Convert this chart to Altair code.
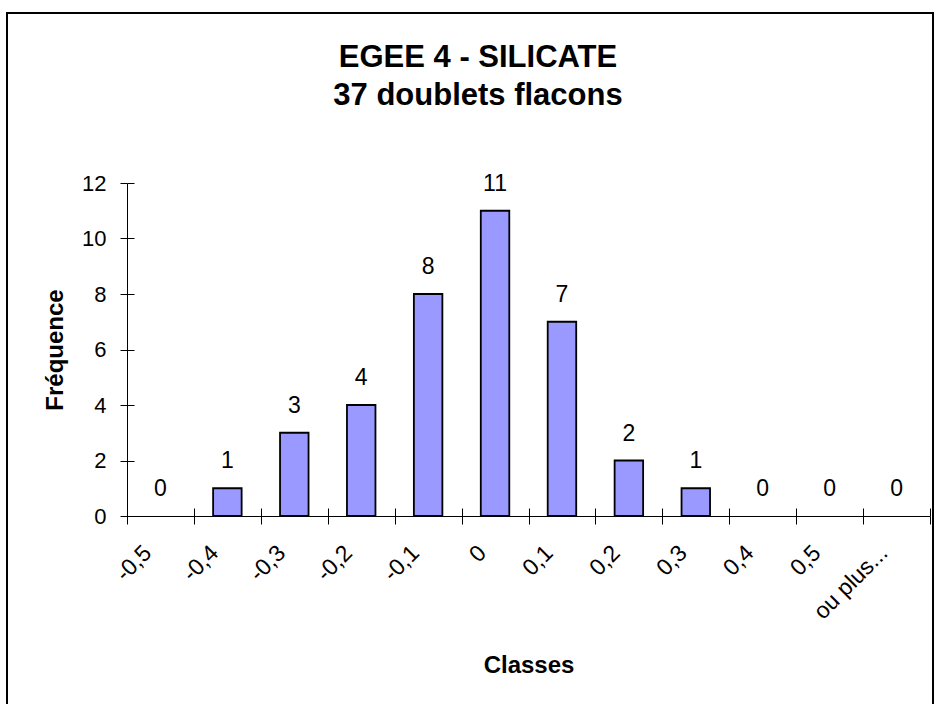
import altair as alt
import pandas as pd

# Histogram classes (upper bounds) and their frequencies
classes = ["-0,5", "-0,4", "-0,3", "-0,2", "-0,1", "0", "0,1", "0,2", "0,3", "0,4", "0,5", "ou plus..."]
frequences = [0, 1, 3, 4, 8, 11, 7, 2, 1, 0, 0, 0]
y_ticks = [0, 2, 4, 6, 8, 10, 12]
title_lines = ["EGEE 4 - SILICATE", "37 doublets flacons"]

df = pd.DataFrame({"classe": classes, "freq": frequences})

FONT = "Liberation Sans"
W, H = 803, 333

# Bands fill each class interval so that band-extent ticks fall on class limits;
# the bars themselves take a fraction of the band.
x_scale = alt.Scale(paddingInner=0, paddingOuter=0)
y_scale = alt.Scale(domain=[0, 12], nice=False)

# Empty classes get no visible bar (only their "0" label)
bars = alt.Chart(df).transform_filter(alt.datum.freq > 0).mark_bar(
    color="#9999FF", stroke="black", strokeWidth=1.8,
    width=alt.RelativeBandSize(0.426),
).encode(
    x=alt.X("classe:N", sort=classes, scale=x_scale,
            axis=alt.Axis(orient="bottom", title="Classes", tickBand="extent",
                          tickSize=8, labelAngle=-45, labelAlign="right",
                          labelBaseline="middle", labelOffset=-13, labelPadding=25,
                          labelFontSize=23, labelFont=FONT, labelColor="black",
                          titleFont=FONT, titleFontSize=24, titleFontWeight="bold",
                          titleColor="black", titlePadding=30,
                          domainColor="black", tickColor="black", grid=False)),
    y=alt.Y("freq:Q", scale=y_scale,
            axis=alt.Axis(orient="left", title="Fréquence", values=y_ticks,
                          tickSize=7, labelPadding=14, labelFontSize=22,
                          labelFont=FONT, labelColor="black",
                          titleFont=FONT, titleFontSize=24, titleFontWeight="bold",
                          titleColor="black", titlePadding=14,
                          domainColor="black", tickColor="black", grid=False)),
)

# Value labels above each bar; this layer also carries the inner half of the
# tick marks so that ticks cross the axis lines.
labels = alt.Chart(df).mark_text(
    font=FONT, fontSize=23, baseline="alphabetic", dy=-20, color="black"
).encode(
    x=alt.X("classe:N", sort=classes, scale=x_scale,
            axis=alt.Axis(orient="top", offset=-H, title=None, labels=False,
                          domain=False, tickBand="extent", tickSize=8,
                          tickColor="black", grid=False)),
    y=alt.Y("freq:Q", scale=y_scale,
            axis=alt.Axis(orient="right", offset=-W, title=None, labels=False,
                          domain=False, values=y_ticks, tickSize=7,
                          tickColor="black", grid=False)),
    text=alt.Text("freq:Q"),
)

one_row = pd.DataFrame({"f": [0]})

# Outer chart frame
frame = alt.Chart(one_row).mark_rect(
    filled=False, stroke="black", strokeWidth=2
).encode(
    x=alt.value(-120), x2=alt.value(806), y=alt.value(-170), y2=alt.value(540)
)

# Two-line chart title
title_style = dict(font=FONT, fontSize=31, fontWeight="bold", color="black",
                   align="center", baseline="alphabetic")
title_1 = alt.Chart(one_row).mark_text(text=title_lines[0], **title_style).encode(
    x=alt.value(351), y=alt.value(-116)
)
title_2 = alt.Chart(one_row).mark_text(text=title_lines[1], **title_style).encode(
    x=alt.value(351), y=alt.value(-78)
)

chart = alt.layer(frame, title_1, title_2, bars, labels).resolve_axis(
    x="independent", y="independent"
).properties(
    width=W, height=H,
    autosize=alt.AutoSizeParams(type="none"),
    padding={"left": 127, "top": 183, "right": 4, "bottom": 188},
    background="white",
).configure_view(stroke=None)

chart.save("out.html", embed_options={"renderer": "svg", "actions": False})
